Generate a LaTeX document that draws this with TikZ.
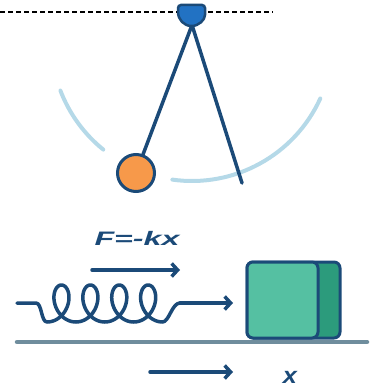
\documentclass[tikz,border=0pt]{standalone}
\usepackage{fontspec}
\newfontfamily\labelfont{Liberation Sans}
\usetikzlibrary{arrows.meta, positioning}

\definecolor{navy}{HTML}{1B4A78}
\definecolor{pivotblue}{HTML}{2272C3}
\definecolor{bobfill}{HTML}{F7994A}
\definecolor{swingblue}{HTML}{B5D9E8}
\definecolor{facegreen}{HTML}{55C0A2}
\definecolor{sidegreen}{HTML}{2C9B7C}
\definecolor{groundgrey}{HTML}{6F8D9D}

\begin{document}
\begin{tikzpicture}[
    x=1pt, y=-1pt, % pixel-like units, y pointing down
    >={Straight Barb[length=6pt, width=13pt]}, % Default arrow tip
    rod/.style={navy, line width=3.5pt, line cap=round}, % Pendulum strings
    swing/.style={swingblue, line width=4pt, line cap=round}, % Swing arcs
    bob/.style={circle, draw=navy, fill=bobfill, line width=3pt, minimum size=37pt, inner sep=0pt}, % Pendulum mass
    spring/.style={navy, line width=3.5pt, line cap=round, line join=round}, % Coil spring
    push/.style={->, navy, line width=3.5pt, line cap=round}, % Straight arrows
    block/.style={draw=navy, fill=sidegreen, line width=3pt, rounded corners=6pt, minimum width=93pt, minimum height=76pt, inner sep=0pt, outer sep=0pt}, % Sliding mass
    face/.style={draw=navy, fill=facegreen, line width=3pt, rounded corners=6pt}, % Front of the mass
    labeltext/.style={navy, font=\labelfont\bfseries\itshape\fontsize{19.5}{20}\selectfont, inner sep=0pt} % Formula labels
]
    \useasboundingbox (0,0) rectangle (378,387);

    % Ceiling
    \draw[black, line width=1.3pt, dash pattern=on 5pt off 3pt] (0,12) -- (273,12);

    % Swing path of the bob
    \coordinate (swingcentre) at (192,40);
    \draw[swing] (swingcentre) ++(159:141) arc[start angle=159, end angle=129, radius=141];
    \draw[swing] (swingcentre) ++(98:141) arc[start angle=98, end angle=24.5, radius=141];

    % Pendulum
    \coordinate (hinge) at (192,25);
    \coordinate (swingend) at (242,183);
    \node[bob] (bob) at (136,173) {};
    \draw[rod] (hinge) -- (bob);
    \draw[rod] (hinge) -- (swingend);
    \draw[navy, fill=pivotblue, line width=2.5pt, rounded corners=3pt]
        (178,12) -- (178,5) -- (205,5) -- (205,12) [sharp corners]
        arc[start angle=0, end angle=180, x radius=13.5, y radius=14] -- cycle;

    % Ground
    \draw[groundgrey, line width=4.5pt, line cap=round] (17,342) -- (367,342);

    % Mass on the ground
    \node[block] (block) at (293.5,300) {};
    \draw[face] (block.north west) rectangle ([xshift=-22pt]block.south east);

    % Spring: prolate cycloid between two straight leads
    \coordinate (springstart) at (17,303);
    \coordinate (springend) at (180,303);
    \draw[spring] (springstart) -- (36,303) .. controls (42,303) and (41,322) .. (47,322)
        -- plot[domain=3.1416:28.2743, samples=241, variable=\s]
           ({32.55+4.6*\s-14*sin(\s r)}, {303.5-18.5*cos(\s r)})
        .. controls (169,322) and (172,303) .. (springend);
    \draw[push, shorten >=14pt] (springend) -- (springend -| block.west);

    % Force label and arrow
    \node[labeltext, xscale=1.65, anchor=base] (force) at (137,245) {F=-kx};
    \coordinate (forcetail) at (92,270);
    \coordinate (forcehead) at (180,270);
    \draw[push] (forcetail) -- (forcehead);

    % Displacement
    \node[labeltext, font=\labelfont\bfseries\itshape\fontsize{23}{24}\selectfont, xscale=1.1] (disp) at (290,377) {x};
    \coordinate (disptail) at (150,372);
    \draw[push] (disptail) -- (disptail -| 233,0);
\end{tikzpicture}
\end{document}
